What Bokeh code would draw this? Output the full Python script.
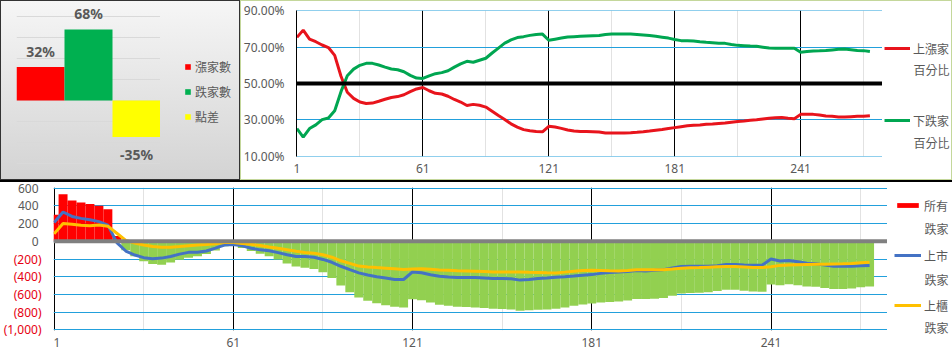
from bokeh.plotting import figure
from bokeh.models import (ColumnDataSource, Range1d, FactorRange, FixedTicker, Span, Label,
                          Legend, LegendItem, PrintfTickFormatter)
from bokeh.layouts import column, row
from bokeh.embed import file_html
from bokeh.resources import INLINE
from bokeh.core.properties import value

# ---------------- data ----------------
summary_cats = ["漲家數", "跌家數", "點差"]
summary_pct = [32, 68, -35]
summary_colors = ["#ff0000", "#00b050", "#ffff00"]

minutes = list(range(1, 277, 3))

up_pct = [75.4, 79.4, 74.5, 73.0, 71.2, 69.8, 65.5, 54.0, 45.2, 41.8,
          39.8, 39.0, 39.2, 40.2, 41.3, 42.3, 42.8, 43.8, 45.5, 47.0,
          47.8, 46.0, 44.6, 44.2, 43.0, 41.2, 39.8, 37.9, 38.5, 38.0,
          37.0, 34.7, 32.4, 30.2, 27.8, 26.0, 24.6, 24.0, 23.6, 23.4,
          26.4, 26.0, 25.3, 24.4, 23.8, 23.6, 23.5, 23.4, 23.3, 22.8,
          22.8, 22.8, 22.8, 22.9, 23.1, 23.4, 23.8, 24.3, 24.7, 25.2,
          25.7, 26.2, 26.7, 27.0, 27.2, 27.5, 27.7, 28.0, 28.2, 28.7,
          29.1, 29.4, 29.8, 30.1, 30.5, 30.8, 31.1, 31.3, 30.9, 30.6,
          33.0, 33.0, 33.0, 32.6, 32.1, 31.9, 31.6, 31.5, 31.7, 31.9,
          32.0, 32.3]

down_pct = [25.2, 20.5, 25.2, 27.2, 30.1, 31.0, 35.0, 45.5, 54.3, 57.9,
            60.0, 61.1, 61.1, 60.2, 59.0, 58.0, 57.6, 56.5, 54.5, 53.0,
            52.8, 54.2, 55.4, 56.0, 57.0, 59.0, 60.8, 62.2, 61.7, 62.8,
            63.9, 66.8, 69.5, 72.2, 74.0, 75.3, 75.8, 76.5, 77.0, 77.2,
            73.8, 74.4, 75.0, 75.6, 75.8, 76.0, 76.2, 76.3, 76.4, 77.0,
            77.2, 77.2, 77.2, 77.2, 77.0, 76.7, 76.4, 76.0, 75.5, 75.0,
            74.2, 73.6, 73.6, 73.4, 73.0, 72.7, 72.5, 72.2, 72.1, 71.5,
            71.0, 70.8, 70.6, 70.5, 70.0, 69.5, 69.4, 69.4, 69.4, 69.4,
            67.2, 67.6, 67.9, 68.0, 68.2, 68.5, 68.8, 69.0, 68.6, 68.2,
            68.1, 67.6]

all_fall = [300, 530, 460, 436, 420, 400, 360, 60, -100, -170,
            -225, -255, -265, -240, -208, -185, -170, -145, -105, -55,
            -45, -75, -110, -140, -170, -205, -250, -285, -298, -312,
            -350, -415, -500, -575, -635, -670, -700, -720, -738, -748,
            -655, -665, -690, -715, -728, -738, -742, -746, -752, -762,
            -765, -770, -782, -778, -772, -768, -762, -748, -728, -712,
            -703, -690, -684, -680, -668, -652, -652, -648, -640, -613,
            -590, -583, -580, -575, -562, -546, -548, -558, -566, -568,
            -488, -495, -484, -497, -510, -513, -526, -539, -537, -532,
            -519, -509]

listed_fall = [212, 330, 280, 258, 243, 221, 182, -15, -110, -155,
               -185, -197, -190, -172, -145, -125, -123, -110, -78, -42,
               -36, -52, -78, -97, -108, -128, -152, -171, -171, -180,
               -205, -237, -282, -320, -356, -380, -400, -415, -431, -431,
               -346, -355, -378, -395, -404, -408, -409, -409, -413, -419,
               -420, -422, -438, -430, -420, -414, -407, -400, -392, -383,
               -376, -362, -352, -347, -340, -330, -334, -328, -320, -300,
               -285, -283, -283, -283, -275, -262, -262, -268, -271, -271,
               -200, -222, -216, -232, -248, -253, -268, -283, -283, -282,
               -276, -272]

otc_fall = [83, 201, 192, 180, 176, 182, 170, 90, 10, -20,
            -42, -60, -67, -67, -60, -50, -43, -36, -28, -14,
            -15, -24, -35, -47, -64, -80, -95, -113, -127, -134,
            -152, -180, -220, -250, -280, -290, -297, -303, -309, -318,
            -312, -309, -316, -324, -328, -333, -336, -339, -342, -346,
            -346, -346, -346, -350, -353, -356, -357, -348, -338, -330,
            -327, -330, -333, -335, -330, -322, -320, -320, -320, -313,
            -305, -300, -297, -292, -288, -284, -285, -290, -295, -297,
            -288, -272, -268, -265, -262, -260, -258, -256, -254, -250,
            -243, -237]

x_ticks = [1, 61, 121, 181, 241]
x_minor = [31, 91, 151, 211, 271]
pct_ticks = [10, 30, 50, 70, 90]
summary_grid = [-60, -40, -20, 0, 20, 40, 60, 80]
bottom_ticks = [600, 400, 200, 0, -200, -400, -600, -800, -1000]
bottom_tick_labels = ["600", "400", "200", "0", "(200)", "(400)", "(600)", "(800)", "(1,000)"]

GRAY = "#595959"
CYAN = "#22a0dc"
RED_UP = "#e8141c"
GREEN_DN = "#00a651"
NUM_FONT = "Noto Sans"
CJK_FONT = "Noto Sans CJK TC"
OFF = [-1000]   # a single key-only point placed outside every legend panel's view


def bare(fig):
    fig.frame_align = False
    fig.outline_line_color = None
    fig.border_fill_alpha = 0
    fig.background_fill_alpha = 0
    return fig


def key_panel(w, h):
    """A small figure (1 unit = 1 px, y measured from the top) that holds a legend."""
    f = figure(width=w, height=h, output_backend="svg", toolbar_location=None,
               x_range=Range1d(0, w), y_range=Range1d(h, 0),
               min_border_left=0, min_border_right=0, min_border_top=0, min_border_bottom=0)
    bare(f)
    f.axis.visible = False
    f.grid.visible = False
    return f


def legend_style(lg):
    lg.padding = 0
    lg.margin = 0
    lg.label_text_font_size = "12px"
    lg.label_text_color = GRAY
    lg.label_text_font = CJK_FONT
    lg.background_fill_alpha = 0
    lg.border_line_alpha = 0
    return lg


def second_line(f, x, y, text):
    f.add_layout(Label(x=x, y=y, text=text, text_align="left", text_baseline="middle",
                       text_font=CJK_FONT, text_font_size="12px", text_color=GRAY))


# ---------------- top-left: summary bars ----------------
src1 = ColumnDataSource(dict(
    cat=summary_cats, pct=summary_pct, color=summary_colors,
    label=[f"{v}%" for v in summary_pct],
    yoff=[-16 if v >= 0 else 17 for v in summary_pct]))

p1 = figure(width=160, height=180, output_backend="svg", toolbar_location=None,
            x_range=FactorRange(factors=summary_cats, range_padding=0),
            y_range=Range1d(-67, 91),
            min_border_left=16, min_border_right=0, min_border_top=5, min_border_bottom=10)
bare(p1)
p1.xaxis.visible = False
p1.yaxis.visible = False
p1.xgrid.visible = False
p1.ygrid.ticker = FixedTicker(ticks=summary_grid)
p1.ygrid.grid_line_color = "#d9d9d9"

p1.vbar(x="cat", top="pct", width=1.0, fill_color="color", line_color=None, source=src1)
p1.text(x="cat", y="pct", text="label", y_offset="yoff", text_align="center",
        text_baseline="middle", text_font_size="14px", text_font_style="bold",
        text_color=GRAY, text_font=value(NUM_FONT), source=src1)

k1 = key_panel(80, 180)
k1_items = []
for c, col in zip(summary_cats, summary_colors):
    r = k1.vbar(x=OFF, top=OFF, width=1, fill_color=col, line_color=None)
    k1_items.append(LegendItem(label=c, renderers=[r]))
k1.add_layout(legend_style(Legend(items=k1_items, location=(24, 54), glyph_width=7,
                                  glyph_height=7, label_height=20, spacing=5,
                                  label_standoff=4)))

top_left = row(p1, k1, styles={"background": "linear-gradient(180deg, #f6f6f6 0%, #d3d3d3 100%)",
                               "box-shadow": "inset 0 0 0 1px #333333"})

# ---------------- top-right: up/down percentage ----------------
p2 = figure(width=642, height=180, output_backend="svg", toolbar_location=None,
            x_range=Range1d(0.8, 280), y_range=Range1d(9.8, 90.2),
            min_border_left=54, min_border_right=0, min_border_top=10, min_border_bottom=24)
bare(p2)
p2.background_fill_color = "white"
p2.background_fill_alpha = 1

p2.yaxis.ticker = FixedTicker(ticks=pct_ticks)
p2.yaxis.formatter = PrintfTickFormatter(format="%.2f%%")
p2.yaxis.axis_line_color = "black"
p2.yaxis.major_label_standoff = 12
p2.xaxis.ticker = FixedTicker(ticks=x_ticks, minor_ticks=x_minor)
p2.xaxis.axis_line_color = None
p2.xaxis.major_label_standoff = 7
for ax in p2.axis:
    ax.major_tick_out = 0
    ax.major_tick_in = 0
    ax.minor_tick_out = 0
    ax.minor_tick_in = 0
    ax.major_label_text_font = NUM_FONT
    ax.major_label_text_font_size = "12px"
    ax.major_label_text_color = GRAY
p2.xgrid.ticker = FixedTicker(ticks=x_ticks, minor_ticks=x_minor)
p2.xgrid.grid_line_color = "black"
p2.xgrid.minor_grid_line_color = "#e2e2e2"
p2.ygrid.ticker = FixedTicker(ticks=pct_ticks)
p2.ygrid.grid_line_color = CYAN

p2.add_layout(Span(location=50, dimension="width", line_color="black", line_width=4))
p2.line(minutes, up_pct, line_color=RED_UP, line_width=3)
p2.line(minutes, down_pct, line_color=GREEN_DN, line_width=3)

k2 = key_panel(70, 180)
k2_up = k2.line(x=OFF, y=OFF, line_color=RED_UP, line_width=3)
k2_dn = k2.line(x=OFF, y=OFF, line_color=GREEN_DN, line_width=3)
k2.add_layout(legend_style(Legend(items=[LegendItem(label="上漲家", renderers=[k2_up]),
                                         LegendItem(label="下跌家", renderers=[k2_dn])],
                                  location=(2, 50), glyph_width=26, glyph_height=20,
                                  label_height=20, spacing=52, label_standoff=3)))
second_line(k2, 31, 69, "百分比")
second_line(k2, 31, 142, "百分比")

top_right = row(p2, k2, styles={"background": "#ffffff",
                                "box-shadow": "inset 0 0 0 1px #c4d79b"})

# ---------------- bottom: falling counts ----------------
FR_TOP, FR_H, FR_BOT = 7, 143, 24
y3 = (-1006, 606)
per_px = (y3[1] - y3[0]) / FR_H

p3y = figure(width=53, height=174, output_backend="svg", toolbar_location=None,
             x_range=Range1d(0, 53),
             y_range=Range1d(y3[0] - FR_BOT * per_px, y3[1] + FR_TOP * per_px),
             min_border_left=0, min_border_right=0, min_border_top=0, min_border_bottom=0)
bare(p3y)
p3y.axis.visible = False
p3y.grid.visible = False
p3y.text(x=[41 if v < 0 else 38 for v in bottom_ticks], y=bottom_ticks, text=bottom_tick_labels,
         text_color=["#e60012" if v < 0 else GRAY for v in bottom_ticks],
         text_align="right", text_baseline="middle", text_font_size="12px",
         text_font=value(NUM_FONT))

p3 = figure(width=834, height=174, output_backend="svg", toolbar_location=None,
            x_range=Range1d(0.8, 280), y_range=Range1d(*y3),
            min_border_left=0, min_border_right=0, min_border_top=FR_TOP,
            min_border_bottom=FR_BOT)
bare(p3)
p3.background_fill_color = "white"
p3.background_fill_alpha = 1

p3.yaxis.visible = False
p3.yaxis.ticker = FixedTicker(ticks=bottom_ticks)
p3.ygrid.ticker = FixedTicker(ticks=bottom_ticks)
p3.ygrid.grid_line_color = CYAN
p3.xaxis.ticker = FixedTicker(ticks=x_ticks, minor_ticks=x_minor)
p3.xaxis.axis_line_color = None
p3.xaxis.major_tick_out = 0
p3.xaxis.major_tick_in = 0
p3.xaxis.minor_tick_out = 0
p3.xaxis.minor_tick_in = 0
p3.xaxis.major_label_standoff = 7
p3.xaxis.major_label_text_font = NUM_FONT
p3.xaxis.major_label_text_font_size = "12px"
p3.xaxis.major_label_text_color = GRAY
p3.xgrid.ticker = FixedTicker(ticks=x_ticks, minor_ticks=x_minor)
p3.xgrid.grid_line_color = "black"
p3.xgrid.minor_grid_line_color = "#e2e2e2"

src3 = ColumnDataSource(dict(minute=minutes, total=all_fall,
                             color=["#ff0000" if v >= 0 else "#92d050" for v in all_fall]))
p3.vbar(x="minute", top="total", width=3, fill_color="color", line_color=None, source=src3)
p3.add_layout(Span(location=0, dimension="width", line_color="#808080", line_width=4))
p3.line(minutes, listed_fall, line_color="#4472c4", line_width=3)
p3.line(minutes, otc_fall, line_color="#ffc000", line_width=3)

k3 = key_panel(65, 174)
k3_all = k3.vbar(x=OFF, top=OFF, width=1, fill_color="#ff0000", line_color=None)
k3_listed = k3.line(x=OFF, y=OFF, line_color="#4472c4", line_width=3)
k3_otc = k3.line(x=OFF, y=OFF, line_color="#ffc000", line_width=3)
k3.add_layout(legend_style(Legend(items=[LegendItem(label="所有", renderers=[k3_all]),
                                         LegendItem(label="上市", renderers=[k3_listed]),
                                         LegendItem(label="上櫃", renderers=[k3_otc])],
                                  location=(7, 39), glyph_width=27, glyph_height=6,
                                  label_height=20, spacing=30, label_standoff=3)))
for py in (48, 99, 147):
    second_line(k3, 37, py, "跌家")

bottom = row(p3y, p3, k3, styles={"background": "#ffffff",
                                  "box-shadow": "inset 0 2px 0 0 #000000"})

layout = column(row(top_left, top_right), bottom)
open("out.html", "w").write(file_html(layout, INLINE))
